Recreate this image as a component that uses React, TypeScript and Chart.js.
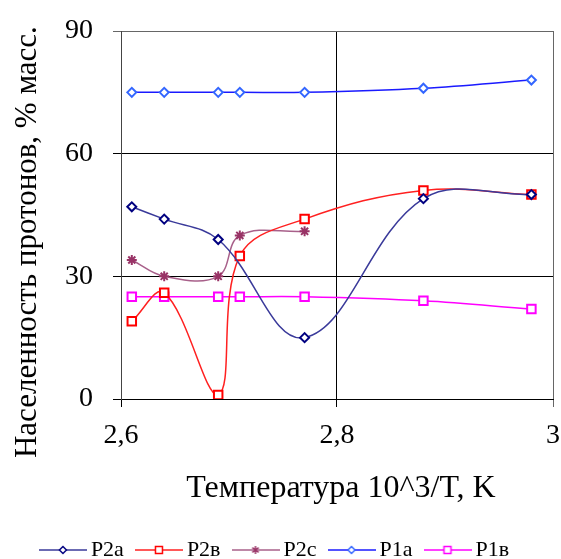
import React, { useEffect, useRef } from 'react';
import { Chart, registerables } from 'chart.js';

Chart.register(...registerables);

const seriesNames = ['P2a', 'P2в', 'P2c', 'P1a', 'P1в'];

const xP2a = [2.61, 2.64, 2.69, 2.77, 2.88, 2.98];
const yP2a = [47, 44, 39, 15, 49, 50];

const xP2b = [2.61, 2.64, 2.69, 2.71, 2.77, 2.88, 2.98];
const yP2b = [19, 26, 1, 35, 44, 51, 50];

const xP2c = [2.61, 2.64, 2.69, 2.71, 2.77];
const yP2c = [34, 30, 30, 40, 41];

const xP1a = [2.61, 2.64, 2.69, 2.71, 2.77, 2.88, 2.98];
const yP1a = [75, 75, 75, 75, 75, 76, 78];

const xP1b = [2.61, 2.64, 2.69, 2.71, 2.77, 2.88, 2.98];
const yP1b = [25, 25, 25, 25, 25, 24, 22];

const xMin = 2.6;
const xMax = 3;
const xStep = 0.2;
const yMin = 0;
const yMax = 90;
const yStep = 30;

const xTitle = ' Температура 10^3/T, K';
const yTitle = 'Населенность протонов, % масс.       ';

const FONT = '"Liberation Serif", "Times New Roman", serif';

type Style = {
  line: string;
  marker: string;
  shape: 'rectRot' | 'rect' | 'star';
  radius: number;
};

const styles: Style[] = [
  { line: '#3a3a9a', marker: '#000080', shape: 'rectRot', radius: 4.5 },
  { line: '#ff2020', marker: '#ff0000', shape: 'rect', radius: 6 },
  { line: '#a8608a', marker: '#993366', shape: 'star', radius: 5 },
  { line: '#1a1aff', marker: '#3366ff', shape: 'rectRot', radius: 4.5 },
  { line: '#ff00ff', marker: '#ff00ff', shape: 'rect', radius: 6 },
];

function zip(xs: number[], ys: number[]) {
  return xs.map((x, i) => ({ x, y: ys[i] }));
}

function legendImage(st: Style): HTMLCanvasElement {
  const c = document.createElement('canvas');
  const W = 48;
  const H = 16;
  c.width = W;
  c.height = H;
  const g = c.getContext('2d')!;
  const cy = H / 2;
  const cx = W / 2;
  g.strokeStyle = st.line;
  g.lineWidth = 1.5;
  g.beginPath();
  g.moveTo(0, cy);
  g.lineTo(W, cy);
  g.stroke();
  g.strokeStyle = st.marker;
  g.fillStyle = '#fff';
  g.lineWidth = 1.5;
  if (st.shape === 'rectRot') {
    const r = 3.5;
    g.beginPath();
    g.moveTo(cx, cy - r);
    g.lineTo(cx + r, cy);
    g.lineTo(cx, cy + r);
    g.lineTo(cx - r, cy);
    g.closePath();
    g.fill();
    g.stroke();
  } else if (st.shape === 'rect') {
    const s = 3.5;
    g.beginPath();
    g.rect(cx - s, cy - s, 2 * s, 2 * s);
    g.fill();
    g.stroke();
  } else {
    const r = 4;
    g.beginPath();
    g.moveTo(cx, cy - r);
    g.lineTo(cx, cy + r);
    g.moveTo(cx - r * 0.8, cy - r * 0.6);
    g.lineTo(cx + r * 0.8, cy + r * 0.6);
    g.moveTo(cx + r * 0.8, cy - r * 0.6);
    g.lineTo(cx - r * 0.8, cy + r * 0.6);
    g.stroke();
  }
  return c;
}

function fmt(v: number) {
  const r = Math.round(v * 10) / 10;
  return String(r).replace('.', ',');
}

export default function App() {
  const ref = useRef<HTMLCanvasElement | null>(null);

  useEffect(() => {
    if (!ref.current) return;
    const imgs = styles.map(legendImage);
    const datasets = [
      zip(xP2a, yP2a),
      zip(xP2b, yP2b),
      zip(xP2c, yP2c),
      zip(xP1a, yP1a),
      zip(xP1b, yP1b),
    ].map((data, i) => ({
      label: seriesNames[i],
      data,
      borderColor: styles[i].line,
      borderWidth: 1.5,
      backgroundColor: '#fff',
      pointStyle: styles[i].shape,
      pointRadius: styles[i].radius,
      pointBorderColor: styles[i].marker,
      pointBackgroundColor: '#fff',
      pointBorderWidth: 2,
      tension: 0.38,
      fill: false,
    }));

    const chart = new Chart(ref.current, {
      type: 'line',
      data: { datasets },
      options: {
        animation: false,
        responsive: false,
        layout: { padding: { left: 0, right: 6, top: 31, bottom: 0 } },
        plugins: {
          tooltip: { enabled: false },
          legend: {
            position: 'bottom',
            labels: {
              usePointStyle: true,
              pointStyleWidth: 34,
              padding: 18,
              color: '#000',
              font: { family: FONT, size: 22 },
              generateLabels: () =>
                seriesNames.map((n, i) => ({
                  text: n,
                  pointStyle: imgs[i] as any,
                  fillStyle: '#fff',
                  strokeStyle: styles[i].line,
                  lineWidth: 0,
                  hidden: false,
                  datasetIndex: i,
                  fontColor: '#000',
                })),
            },
          },
        },
        scales: {
          x: {
            type: 'linear',
            min: xMin,
            max: xMax,
            ticks: {
              stepSize: xStep,
              color: '#000',
              font: { family: FONT, size: 28 },
              padding: 12,
              maxRotation: 0,
              callback: (v: any) => fmt(Number(v)),
            },
            grid: {
              color: (c: any) => (Math.abs(c.tick?.value - xMax) < 1e-6 ? '#666' : '#000'),
              lineWidth: 1,
              tickLength: 8,
              drawOnChartArea: true,
            },
            border: { display: true, color: '#000', width: 1 },
            title: {
              display: true,
              text: xTitle,
              color: '#000',
              font: { family: FONT, size: 32 },
              padding: { top: 0, bottom: 13 },
            },
            afterFit: (s: any) => {
              s.height = 122;
              s.paddingLeft = 0;
              s.paddingRight = 0;
            },
          },
          y: {
            type: 'linear',
            min: yMin,
            max: yMax,
            ticks: {
              stepSize: yStep,
              color: '#000',
              font: { family: FONT, size: 28 },
              padding: 20,
            },
            grid: {
              color: (c: any) => (c.tick?.value === yMax ? '#666' : '#000'),
              lineWidth: 1,
              tickLength: 8,
            },
            border: { display: true, color: '#444', width: 1 },
            title: {
              display: true,
              text: yTitle,
              color: '#000',
              font: { family: FONT, size: 31 },
              padding: { top: 9, bottom: 0 },
            },
            afterFit: (s: any) => {
              s.width = 121;
              s.paddingTop = 0;
              s.paddingBottom = 0;
            },
          },
        },
      },
    });
    return () => chart.destroy();
  }, []);

  return (
    <div
      style={{
        position: 'fixed',
        left: 0,
        top: 0,
        width: 561,
        height: 559,
        overflow: 'hidden',
        background: '#fff',
      }}
    >
      <canvas ref={ref} width={561} height={571} style={{ display: 'block' }} />
    </div>
  );
}
